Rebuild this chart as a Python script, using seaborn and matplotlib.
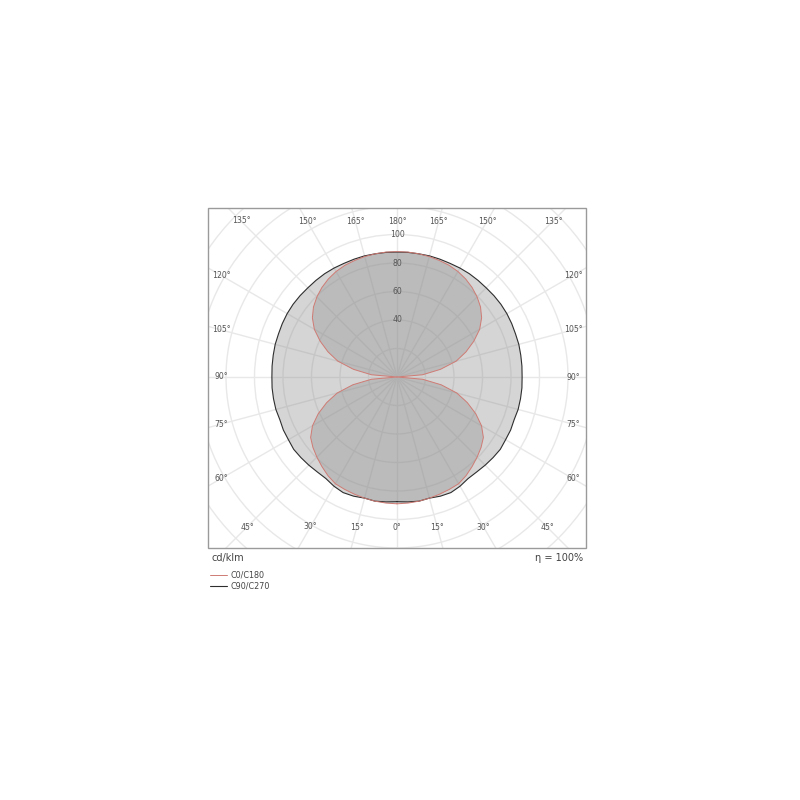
import numpy as np
import matplotlib
matplotlib.use("Agg")
import matplotlib.pyplot as plt
from matplotlib.patches import Rectangle
import seaborn as sns

sns.set_style("white")
plt.rcParams["font.family"] = ["DejaVu Sans"]

# gamma angles (deg), 0 = nadir, 180 = zenith
gamma = np.arange(0, 181, 5)

# luminous intensity, cd/klm
c0_c180 = [89, 88.8, 88.5, 88, 87.5, 87, 86.5, 84.5, 82, 79.5,
           77, 74, 68.5, 61, 52.5, 43.5, 31.5, 18,
           0, 18, 31, 43, 51.5, 59.5, 67, 72.5, 76.5, 79.5,
           82, 84, 85.5, 86.5, 87, 87.5, 87.8, 88, 88]
c90_c270 = [87.5, 88, 88.5, 88, 89, 89.5, 88.5, 87, 87, 87.5,
            88, 88.5, 88, 88, 87.5, 88, 88, 88, 87.8,
            88, 88.2, 88.5, 88.5, 88.8, 89, 89, 88.8, 88.5,
            88.5, 88.5, 88.3, 88, 88, 88, 87.8, 87.8, 87.7]

radial_grid = np.arange(20, 201, 20)
radial_labels = [40, 60, 80, 100]
top_labels = [135, 150, 165, 180]
side_labels = [120, 105, 90, 75, 60]
bottom_labels = [45, 30, 15, 0]

# frame (figure fraction) and polar centre
fx0, fy0, fw, fh = 208 / 800, 1 - 548 / 800, 378 / 800, 340 / 800
cx, cy = 397 / 800, 1 - 377 / 800
rmax = 200
half = rmax * 1.425 / 800

fig = plt.figure(figsize=(8, 8), dpi=100)
ax = fig.add_axes([cx - half, cy - half, 2 * half, 2 * half], projection="polar")
ax.set_theta_zero_location("S")
ax.set_rlim(0, rmax)
ax.set_rticks(radial_grid)
ax.set_yticklabels([])
ax.set_thetagrids(np.arange(0, 360, 15), labels=[])
ax.grid(color="#e8e8e8", lw=1.0)
ax.spines["polar"].set_visible(False)
ax.patch.set_visible(False)


def full_curve(vals):
    th = np.deg2rad(np.concatenate([gamma, 360 - gamma[::-1]]))
    r = np.concatenate([vals, vals[::-1]])
    return th, r


th90, r90 = full_curve(np.array(c90_c270))
th0, r0 = full_curve(np.array(c0_c180))

ax.fill(th90, r90, color="#8e8e8e", alpha=0.37, lw=0, zorder=2)
ax.fill(th0, r0, color="#8e8e8e", alpha=0.36, lw=0, zorder=3)
sns.lineplot(x=th90, y=r90, ax=ax, sort=False, estimator=None,
             color="#2e2e2e", lw=0.8, label="C90/C270", zorder=4)
sns.lineplot(x=th0, y=r0, ax=ax, sort=False, estimator=None,
             color="#cf7b74", lw=0.7, label="C0/C180", zorder=5)
ax.set_xlabel("")
ax.set_ylabel("")
handles, labels = ax.get_legend_handles_labels()
ax.get_legend().remove()

# clip everything to the rectangular frame
clip = Rectangle((fx0, fy0), fw, fh, transform=fig.transFigure)
for art in ax.xaxis.get_gridlines() + ax.yaxis.get_gridlines() + ax.lines + ax.patches:
    art.set_clip_path(clip)

fig.add_artist(Rectangle((fx0, fy0), fw, fh, transform=fig.transFigure,
                         fill=False, ec="#9a9a9a", lw=1.0, zorder=6))

# angle labels along the frame
txt = dict(fontsize=5.6, color="#555555", ha="center", va="center", zorder=7)
top_d, side_d, bot_d = 156 / 1.425, 176 / 1.425, 150 / 1.425


def angle_label(g, r):
    for t in sorted({g % 360, (360 - g) % 360}):
        ax.text(np.deg2rad(t), r, f"{g}°", clip_on=False, **txt)


for g in top_labels:
    angle_label(g, top_d / abs(np.cos(np.deg2rad(g))))
for g in side_labels:
    angle_label(g, side_d / abs(np.sin(np.deg2rad(g))))
for g in bottom_labels:
    angle_label(g, bot_d / abs(np.cos(np.deg2rad(g))))

for v in radial_labels:
    ax.text(np.pi, v, str(v), **txt)

fig.text(fx0 + 0.004, fy0 - 0.006, "cd/klm", fontsize=7, color="#444444",
         ha="left", va="top")
fig.text(fx0 + fw - 0.004, fy0 - 0.006, "η = 100%", fontsize=7, color="#444444",
         ha="right", va="top")

order = [1, 0]
fig.legend([handles[i] for i in order], [labels[i] for i in order],
           loc="upper left", bbox_to_anchor=(fx0 - 0.006, fy0 - 0.019),
           frameon=False, fontsize=5.8, handlelength=2.0, handletextpad=0.5,
           labelspacing=0.25, labelcolor="#444444")

fig.savefig("out.png", dpi=100)
